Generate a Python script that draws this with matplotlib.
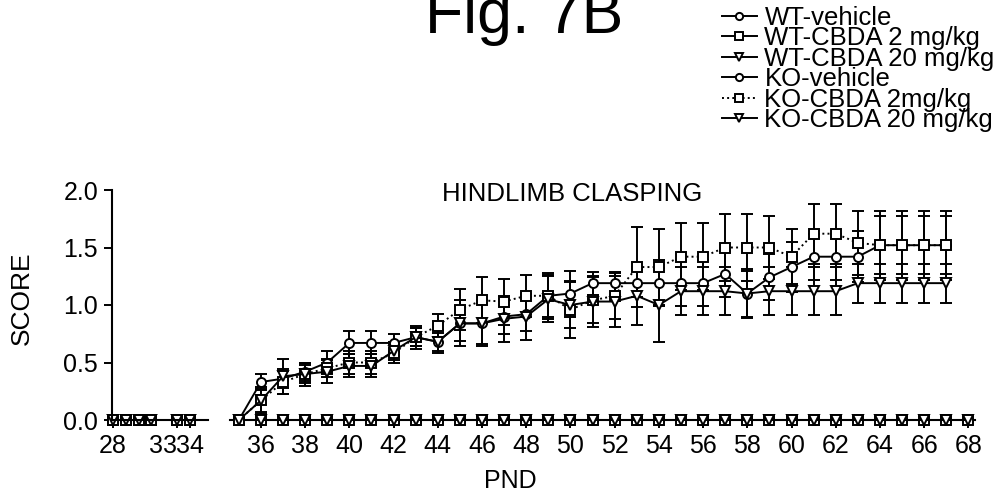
import matplotlib
matplotlib.use("Agg")
import matplotlib.pyplot as plt

plt.rcParams['font.family'] = ['Liberation Sans', 'DejaVu Sans']

# ---------------- data ----------------
days_pre = [28, 29, 30, 31, 33, 34]
score_pre = [0.0, 0.0, 0.0, 0.0, 0.0, 0.0]

days_wt = [35, 36, 37, 38, 39, 40, 41, 42, 43, 44, 45, 46, 47, 48, 49, 50, 51,
           52, 53, 54, 55, 56, 57, 58, 59, 60, 61, 62, 63, 64, 65, 66, 67, 68]
wt_vehicle = [0.0, 0.0, 0.0, 0.0, 0.0, 0.0, 0.0, 0.0, 0.0, 0.0, 0.0, 0.0, 0.0, 0.0, 0.0, 0.0, 0.0,
              0.0, 0.0, 0.0, 0.0, 0.0, 0.0, 0.0, 0.0, 0.0, 0.0, 0.0, 0.0, 0.0, 0.0, 0.0, 0.0, 0.0]
wt_cbda2 = [0.0, 0.0, 0.0, 0.0, 0.0, 0.0, 0.0, 0.0, 0.0, 0.0, 0.0, 0.0, 0.0, 0.0, 0.0, 0.0, 0.0,
            0.0, 0.0, 0.0, 0.0, 0.0, 0.0, 0.0, 0.0, 0.0, 0.0, 0.0, 0.0, 0.0, 0.0, 0.0, 0.0, 0.0]
wt_cbda20 = [0.0, 0.0, 0.0, 0.0, 0.0, 0.0, 0.0, 0.0, 0.0, 0.0, 0.0, 0.0, 0.0, 0.0, 0.0, 0.0, 0.0,
             0.0, 0.0, 0.0, 0.0, 0.0, 0.0, 0.0, 0.0, 0.0, 0.0, 0.0, 0.0, 0.0, 0.0, 0.0, 0.0, 0.0]

days_ko = [35, 36, 37, 38, 39, 40, 41, 42, 43, 44, 45, 46, 47, 48, 49, 50, 51,
           52, 53, 54, 55, 56, 57, 58, 59, 60, 61, 62, 63, 64, 65, 66, 67]
ko_vehicle = [0.00, 0.33, 0.36, 0.42, 0.50, 0.67, 0.67, 0.67, 0.72, 0.68, 0.84, 0.84, 0.90, 0.92, 1.08, 1.10, 1.19,
              1.19, 1.19, 1.19, 1.19, 1.19, 1.27, 1.10, 1.24, 1.33, 1.42, 1.42, 1.42, 1.52, 1.52, 1.52, 1.52]
ko_vehicle_err = [0.00, 0.07, 0.08, 0.08, 0.10, 0.10, 0.10, 0.08, 0.08, 0.08, 0.15, 0.18, 0.15, 0.15, 0.18, 0.20, 0.10,
                  0.10, 0.12, 0.20, 0.20, 0.20, 0.20, 0.20, 0.20, 0.22, 0.20, 0.20, 0.22, 0.25, 0.25, 0.25, 0.25]
ko_cbda2 = [0.00, 0.17, 0.33, 0.40, 0.45, 0.50, 0.50, 0.58, 0.72, 0.82, 0.96, 1.04, 1.03, 1.08, 1.08, 0.96, 1.04,
            1.08, 1.33, 1.33, 1.42, 1.42, 1.50, 1.50, 1.50, 1.42, 1.62, 1.62, 1.54, 1.52, 1.52, 1.52, 1.52]
ko_cbda2_err = [0.00, 0.12, 0.10, 0.08, 0.08, 0.10, 0.10, 0.08, 0.08, 0.10, 0.18, 0.20, 0.20, 0.18, 0.20, 0.25, 0.20,
                0.20, 0.35, 0.33, 0.29, 0.29, 0.29, 0.29, 0.27, 0.24, 0.26, 0.26, 0.28, 0.30, 0.30, 0.30, 0.30]
ko_cbda20 = [0.00, 0.17, 0.38, 0.40, 0.42, 0.47, 0.47, 0.60, 0.72, 0.68, 0.84, 0.84, 0.88, 0.90, 1.05, 1.00, 1.03,
             1.03, 1.08, 1.00, 1.12, 1.12, 1.12, 1.10, 1.12, 1.12, 1.12, 1.12, 1.19, 1.19, 1.19, 1.19, 1.19]
ko_cbda20_err = [0.00, 0.10, 0.15, 0.10, 0.10, 0.10, 0.10, 0.08, 0.10, 0.10, 0.20, 0.20, 0.20, 0.20, 0.20, 0.20, 0.22,
                 0.22, 0.25, 0.32, 0.21, 0.21, 0.21, 0.21, 0.21, 0.21, 0.21, 0.21, 0.17, 0.17, 0.17, 0.17, 0.17]

labels = ["WT-vehicle", "WT-CBDA 2 mg/kg", "WT-CBDA 20 mg/kg",
          "KO-vehicle", "KO-CBDA 2mg/kg", "KO-CBDA 20 mg/kg"]
x_ticks_pre = [28, 33, 34]
x_ticks_main = [36, 38, 40, 42, 44, 46, 48, 50, 52, 54, 56, 58, 60, 62, 64, 66, 68]
y_ticks = [0.0, 0.5, 1.0, 1.5, 2.0]

# ---------------- figure ----------------
W, H = 1002, 496
fig = plt.figure(figsize=(W / 100, H / 100), dpi=100)

def fx(px):
    return px / W

def fy(py):
    return 1 - py / H

ax_bot, ax_top = 420, 190
axL = fig.add_axes([fx(112), fy(ax_bot), fx(208 - 112), (ax_bot - ax_top) / H])
axR = fig.add_axes([fx(230), fy(ax_bot), fx(975 - 230), (ax_bot - ax_top) / H])

K = 'black'
lw = 1.4
ms = 6.5
mew = 1.4
styles = [
    dict(marker='o', ls='-'),
    dict(marker='s', ls='-'),
    dict(marker='v', ls='-'),
    dict(marker='o', ls='-'),
    dict(marker='s', ls=':'),
    dict(marker='v', ls='-'),
]

common = dict(color=K, lw=lw, ms=ms, mew=mew, mfc='white', mec=K, clip_on=False)

# left (early) segment
for st in styles:
    axL.plot(days_pre, score_pre, **st, **common)

# right segment: WT
handles = []
for vals, st in zip([wt_vehicle, wt_cbda2, wt_cbda20], styles[:3]):
    h, = axR.plot(days_wt, vals, **st, **common, zorder=3)
    handles.append(h)

# KO with error bars
for vals, errs, st in zip([ko_vehicle, ko_cbda2, ko_cbda20],
                          [ko_vehicle_err, ko_cbda2_err, ko_cbda20_err], styles[3:]):
    axR.errorbar(days_ko, vals, yerr=errs, fmt='none', ecolor=K, elinewidth=1.4,
                 capsize=4, capthick=1.4, clip_on=False, zorder=2)
    h, = axR.plot(days_ko, vals, **st, **common, zorder=4)
    handles.append(h)

for ax in (axL, axR):
    ax.set_ylim(0, 2.0)
    for s in ('top', 'right'):
        ax.spines[s].set_visible(False)
    ax.spines['bottom'].set_linewidth(1.5)
    ax.spines['left'].set_linewidth(1.5)
    ax.tick_params(axis='both', direction='out', length=6, width=1.4,
                   labelsize=18, pad=4, colors=K)

axL.set_xlim(27.93, 35.4)
axL.set_xticks(x_ticks_pre)
axL.set_xticklabels([str(t) for t in x_ticks_pre])
tl = axL.get_xticklabels()
tl[1].set_horizontalalignment('right')
tl[2].set_horizontalalignment('center')
axL.set_yticks(y_ticks)
axL.set_yticklabels([f"{t:.1f}" for t in y_ticks])

axR.set_xlim(34.6, 68.3)
axR.set_xticks(x_ticks_main)
axR.set_xticklabels([str(t) for t in x_ticks_main])
axR.spines['left'].set_visible(False)
axR.set_yticks([])

# texts
fig.text(fx(22), fy(298), "SCORE", rotation=90, ha='center', va='center', fontsize=19)
fig.text(fx(510), fy(481), "PND", ha='center', va='center', fontsize=18)
fig.text(fx(572), fy(201), "HINDLIMB CLASPING", ha='center', va='baseline', fontsize=18.5)
fig.text(fx(425), fy(33), "Fig. 7B", ha='left', va='baseline', fontsize=45)

leg = fig.legend(handles, labels, loc='upper left', bbox_to_anchor=(fx(722), fy(6)),
                 frameon=False, fontsize=18.5, labelspacing=-0.14, handlelength=1.35,
                 handletextpad=0.3, borderpad=0, borderaxespad=0, markerscale=0.8)

fig.savefig("out.png", dpi=100)
